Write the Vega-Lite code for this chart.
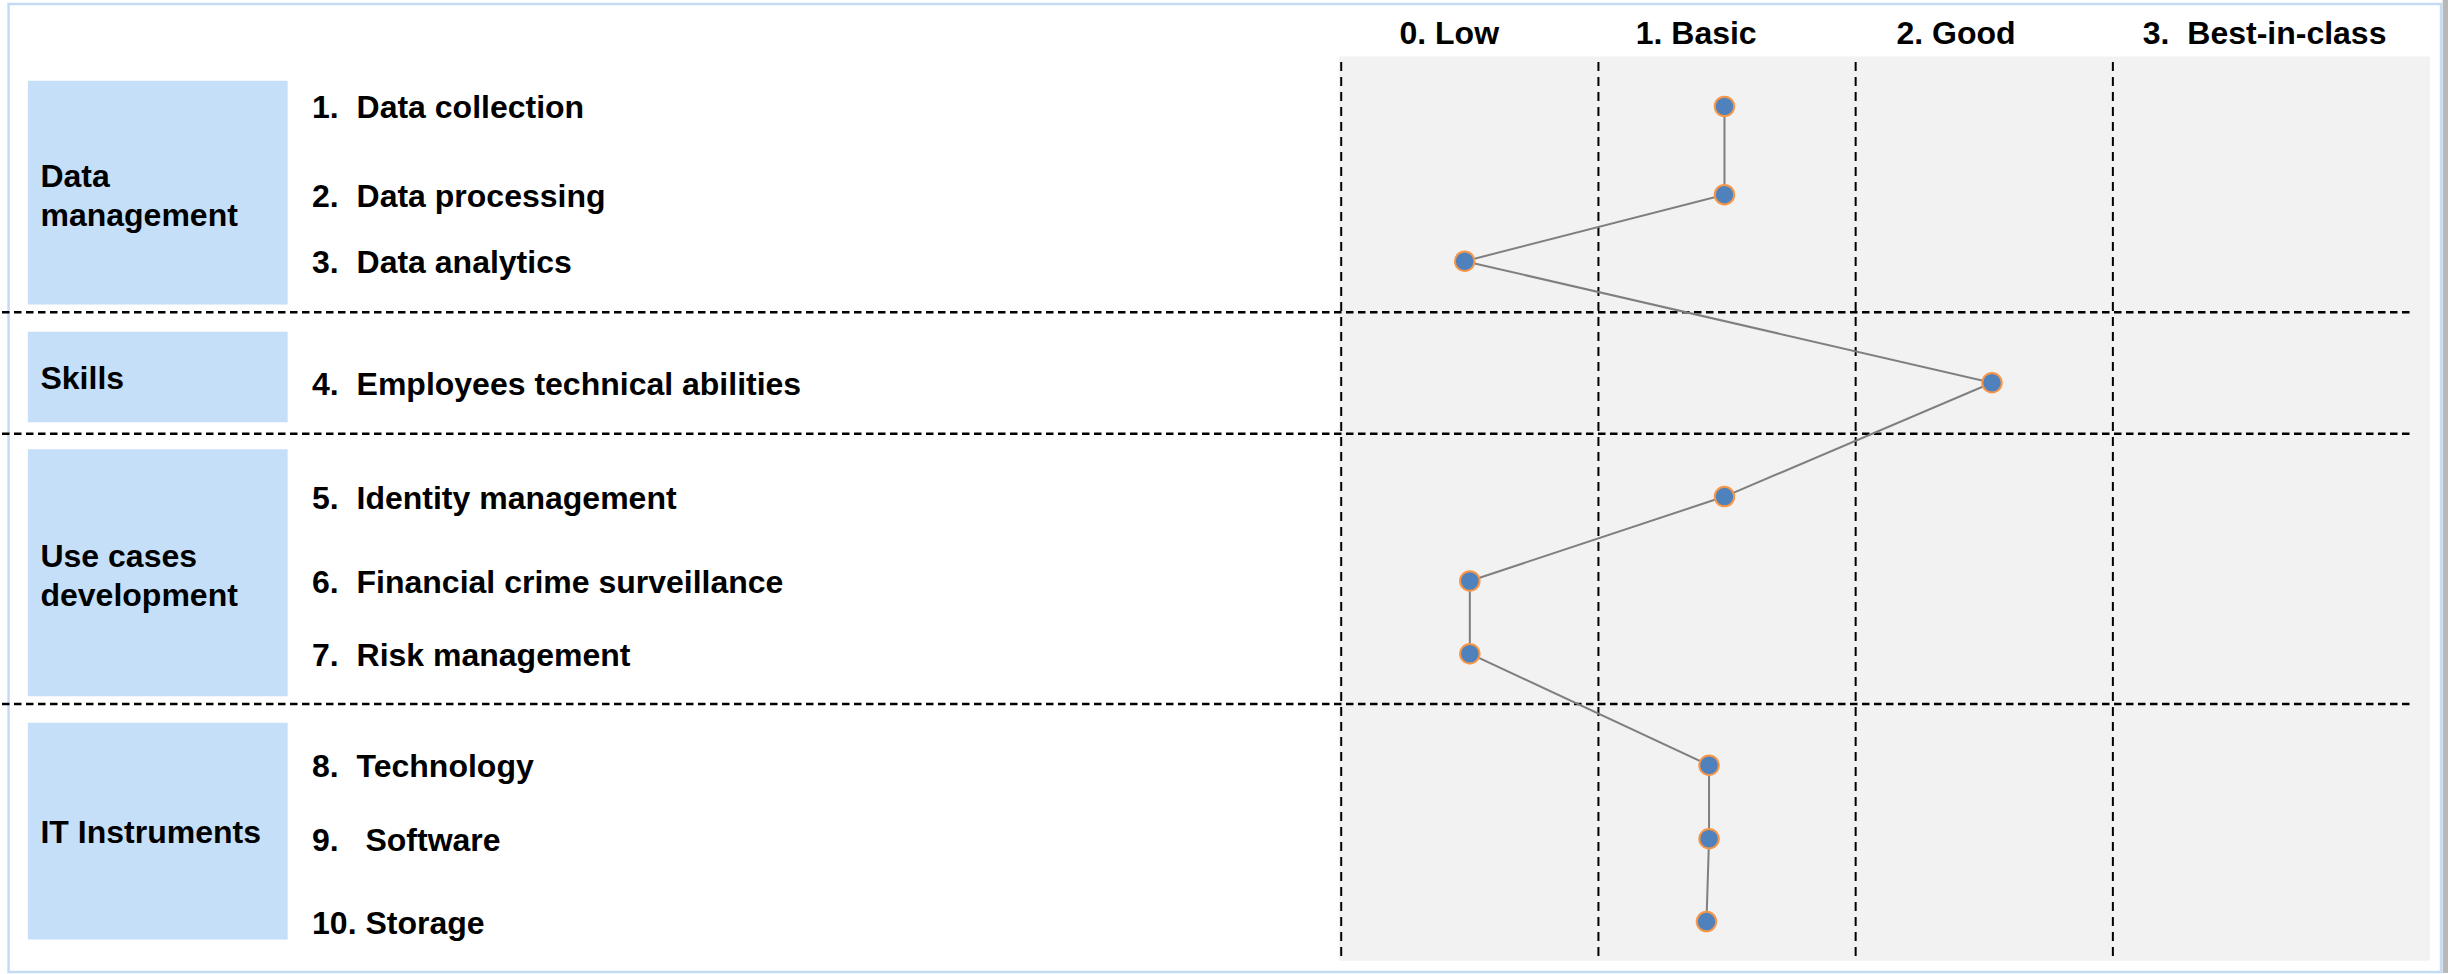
{
  "$schema": "https://vega.github.io/schema/vega-lite/v6.json",
  "width": 2448,
  "height": 974,
  "autosize": {"type": "fit", "contains": "padding"},
  "padding": 0,
  "background": "white",
  "config": {"view": {"stroke": null}, "axis": {"disable": true}},
  "datasets": {
    "items": [
      {"n": 1, "group": "Data management", "item": "1.\u00a0 Data collection", "score": 0.99, "pos": 1.0},
      {"n": 2, "group": "Data management", "item": "2.\u00a0 Data processing", "score": 0.99, "pos": 2.14},
      {"n": 3, "group": "Data management", "item": "3.\u00a0 Data analytics", "score": -0.02, "pos": 3.0},
      {"n": 4, "group": "Skills", "item": "4.\u00a0 Employees technical abilities", "score": 2.03, "pos": 4.57},
      {"n": 5, "group": "Use cases development", "item": "5.\u00a0 Identity management", "score": 0.99, "pos": 6.04},
      {"n": 6, "group": "Use cases development", "item": "6.\u00a0 Financial crime surveillance", "score": 0.0, "pos": 7.13},
      {"n": 7, "group": "Use cases development", "item": "7.\u00a0 Risk management", "score": 0.0, "pos": 8.07},
      {"n": 8, "group": "IT Instruments", "item": "8.\u00a0 Technology", "score": 0.93, "pos": 9.51},
      {"n": 9, "group": "IT Instruments", "item": "9.\u00a0\u00a0 Software", "score": 0.93, "pos": 10.46},
      {"n": 10, "group": "IT Instruments", "item": "10. Storage", "score": 0.92, "pos": 11.53}
    ],
    "groups": [
      {"group": "Data management", "label": "Data\nmanagement", "y0": 0.67, "y1": 3.56},
      {"group": "Skills", "label": "Skills", "y0": 3.91, "y1": 5.08},
      {"group": "Use cases development", "label": "Use cases\ndevelopment", "y0": 5.43, "y1": 8.62},
      {"group": "IT Instruments", "label": "IT Instruments", "y0": 8.96, "y1": 11.76}
    ],
    "separators": [
      {"after": "Data management", "pos": 3.66},
      {"after": "Skills", "pos": 5.23},
      {"after": "Use cases development", "pos": 8.72}
    ],
    "levels": [
      {"level": "0. Low", "center": -0.08},
      {"level": "1. Basic", "center": 0.88},
      {"level": "2. Good", "center": 1.89},
      {"level": "3.\u00a0 Best-in-class", "center": 3.09}
    ],
    "boundaries": [
      {"edge": -0.5},
      {"edge": 0.5},
      {"edge": 1.5},
      {"edge": 2.5}
    ]
  },
  "layer": [
    {
      "data": {"values": [{}]},
      "mark": {"type": "rect", "fill": "#b8b8b8"},
      "encoding": {
        "x": {"datum": 3.782, "type": "quantitative", "scale": {"domain": [-5.7065, 3.8029], "nice": false, "zero": false}},
        "x2": {"datum": 3.8029},
        "y": {"datum": -0.374, "type": "quantitative", "scale": {"domain": [-0.374, 12.194], "reverse": true, "nice": false, "zero": false}},
        "y2": {"datum": 12.194}
      }
    },
    {
      "data": {"values": [{}]},
      "mark": {"type": "rect", "fill": "white", "stroke": "#c4dbf5", "strokeWidth": 2.5},
      "encoding": {
        "x": {"datum": -5.681, "type": "quantitative", "scale": {"domain": [-5.7065, 3.8029], "nice": false, "zero": false}},
        "x2": {"datum": 3.776},
        "y": {"datum": -0.323, "type": "quantitative", "scale": {"domain": [-0.374, 12.194], "reverse": true, "nice": false, "zero": false}},
        "y2": {"datum": 12.181}
      }
    },
    {
      "data": {"values": [{}]},
      "mark": {"type": "rect", "fill": "#f2f2f2"},
      "encoding": {
        "x": {"datum": -0.509, "type": "quantitative", "scale": {"domain": [-5.7065, 3.8029], "nice": false, "zero": false}},
        "x2": {"datum": 3.733},
        "y": {"datum": 0.357, "type": "quantitative", "scale": {"domain": [-0.374, 12.194], "reverse": true, "nice": false, "zero": false}},
        "y2": {"datum": 12.035}
      }
    },
    {
      "data": {"name": "boundaries"},
      "mark": {"type": "rule", "color": "#000000", "strokeWidth": 2, "strokeDash": [9, 6]},
      "encoding": {
        "x": {"field": "edge", "type": "quantitative", "scale": {"domain": [-5.7065, 3.8029], "nice": false, "zero": false}},
        "y": {"datum": 0.426, "type": "quantitative", "scale": {"domain": [-0.374, 12.194], "reverse": true, "nice": false, "zero": false}},
        "y2": {"datum": 12.045}
      }
    },
    {
      "data": {"name": "separators"},
      "mark": {"type": "rule", "color": "#000000", "strokeWidth": 2.5, "strokeDash": [7.5, 4.5]},
      "encoding": {
        "y": {"field": "pos", "type": "quantitative", "scale": {"domain": [-0.374, 12.194], "reverse": true, "nice": false, "zero": false}},
        "x": {"datum": -5.7065, "type": "quantitative", "scale": {"domain": [-5.7065, 3.8029], "nice": false, "zero": false}},
        "x2": {"datum": 3.667}
      }
    },
    {
      "data": {"name": "groups"},
      "mark": {"type": "rect", "fill": "#c5dff8"},
      "encoding": {
        "y": {"field": "y0", "type": "quantitative", "scale": {"domain": [-0.374, 12.194], "reverse": true, "nice": false, "zero": false}},
        "y2": {"field": "y1"},
        "x": {"datum": -5.606, "type": "quantitative", "scale": {"domain": [-5.7065, 3.8029], "nice": false, "zero": false}},
        "x2": {"datum": -4.596}
      }
    },
    {
      "data": {"name": "groups"},
      "transform": [
        {"filter": {"field": "group", "oneOf": ["Skills", "IT Instruments"]}},
        {"fold": ["y0", "y1"], "as": ["edge", "ypos"]}
      ],
      "mark": {"type": "text", "align": "left", "baseline": "middle", "dy": 2, "font": "Liberation Sans", "fontWeight": "bold", "fontSize": 32, "fill": "#000000"},
      "encoding": {
        "y": {"aggregate": "mean", "field": "ypos", "type": "quantitative", "scale": {"domain": [-0.374, 12.194], "reverse": true, "nice": false, "zero": false}},
        "x": {"datum": -5.557, "type": "quantitative", "scale": {"domain": [-5.7065, 3.8029], "nice": false, "zero": false}},
        "text": {"field": "label"}
      }
    },
    {
      "data": {"name": "groups"},
      "transform": [
        {"filter": {"field": "group", "oneOf": ["Data management", "Use cases development"]}},
        {"fold": ["y0", "y1"], "as": ["edge", "ypos"]}
      ],
      "mark": {"type": "text", "align": "left", "baseline": "middle", "dy": -15.5, "lineBreak": "\n", "lineHeight": 38.5, "font": "Liberation Sans", "fontWeight": "bold", "fontSize": 32, "fill": "#000000"},
      "encoding": {
        "y": {"aggregate": "mean", "field": "ypos", "type": "quantitative", "scale": {"domain": [-0.374, 12.194], "reverse": true, "nice": false, "zero": false}},
        "x": {"datum": -5.557, "type": "quantitative", "scale": {"domain": [-5.7065, 3.8029], "nice": false, "zero": false}},
        "text": {"field": "label"}
      }
    },
    {
      "data": {"name": "items"},
      "mark": {"type": "text", "align": "left", "baseline": "middle", "dy": 2, "font": "Liberation Sans", "fontWeight": "bold", "fontSize": 32, "fill": "#000000"},
      "encoding": {
        "y": {"field": "pos", "type": "quantitative", "scale": {"domain": [-0.374, 12.194], "reverse": true, "nice": false, "zero": false}},
        "x": {"datum": -4.501, "type": "quantitative", "scale": {"domain": [-5.7065, 3.8029], "nice": false, "zero": false}},
        "text": {"field": "item"}
      }
    },
    {
      "data": {"name": "levels"},
      "mark": {"type": "text", "align": "center", "baseline": "middle", "dy": 2, "font": "Liberation Sans", "fontWeight": "bold", "fontSize": 32, "fill": "#000000"},
      "encoding": {
        "x": {"field": "center", "type": "quantitative", "scale": {"domain": [-5.7065, 3.8029], "nice": false, "zero": false}},
        "y": {"datum": 0.041, "type": "quantitative", "scale": {"domain": [-0.374, 12.194], "reverse": true, "nice": false, "zero": false}},
        "text": {"field": "level"}
      }
    },
    {
      "data": {"name": "items"},
      "mark": {"type": "line", "color": "#7f7f7f", "strokeWidth": 2},
      "encoding": {
        "x": {"field": "score", "type": "quantitative", "scale": {"domain": [-5.7065, 3.8029], "nice": false, "zero": false}},
        "y": {"field": "pos", "type": "quantitative", "scale": {"domain": [-0.374, 12.194], "reverse": true, "nice": false, "zero": false}},
        "order": {"field": "n", "type": "quantitative"}
      }
    },
    {
      "data": {"name": "items"},
      "mark": {"type": "circle", "size": 380, "opacity": 1, "fill": "#4f81bd", "stroke": "#f79646", "strokeWidth": 2},
      "encoding": {
        "x": {"field": "score", "type": "quantitative", "scale": {"domain": [-5.7065, 3.8029], "nice": false, "zero": false}},
        "y": {"field": "pos", "type": "quantitative", "scale": {"domain": [-0.374, 12.194], "reverse": true, "nice": false, "zero": false}}
      }
    }
  ]
}
